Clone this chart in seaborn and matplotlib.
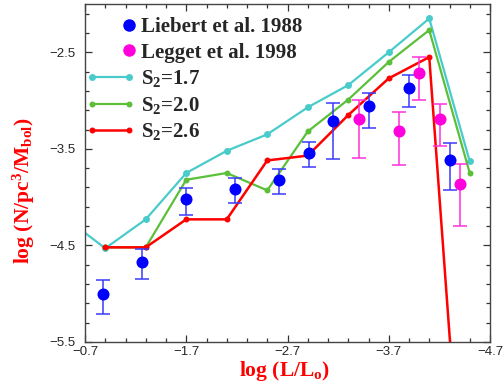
import numpy as np
import pandas as pd
import matplotlib
matplotlib.use("Agg")
import matplotlib.pyplot as plt
import seaborn as sns
from matplotlib.lines import Line2D
from matplotlib.legend_handler import HandlerBase
from matplotlib.ticker import MultipleLocator, FixedLocator

# ---- data ----
model_x = [-0.5, -0.9, -1.3, -1.7, -2.1, -2.5, -2.9, -3.3, -3.7, -4.1, -4.5]
s17_y = [-4.21, -4.53, -4.23, -3.75, -3.52, -3.35, -3.07, -2.84, -2.50, -2.15, -3.63]
s20_y = [np.nan, -4.52, -4.52, -3.82, -3.75, -3.93, -3.32, -2.99, -2.60, -2.27, -3.75]
s26_y = [np.nan, -4.52, -4.52, -4.23, -4.23, -3.62, -3.57, -3.15, -2.77, -2.55, -8.30]

lieb_x = [-0.88, -1.26, -1.70, -2.18, -2.62, -2.91, -3.15, -3.50, -3.90, -4.30]
lieb_y = [-5.00, -4.67, -4.02, -3.92, -3.82, -3.54, -3.21, -3.06, -2.87, -3.62]
lieb_hi = [-4.86, -4.54, -3.91, -3.80, -3.71, -3.43, -3.02, -2.92, -2.74, -3.44]
lieb_lo = [-5.21, -4.85, -4.18, -4.06, -3.97, -3.69, -3.61, -3.28, -3.07, -3.93]

legg_x = [-3.41, -3.80, -4.00, -4.21, -4.40]
legg_y = [-3.19, -3.31, -2.71, -3.19, -3.86]
legg_hi = [-2.99, -3.12, -2.55, -3.04, -3.66]
legg_lo = [-3.59, -3.67, -2.99, -3.47, -4.30]

x_ticks = [-0.7, -1.7, -2.7, -3.7, -4.7]
y_ticks = [-5.5, -4.5, -3.5, -2.5]

CYAN = "#4ACBCB"
GREEN = "#5CBF3A"
RED = "#FF0000"
BLUE = "#0000FF"
BLUE_ERR = "#3A3AFF"
MAG = "#FF00DC"
MAG_ERR = "#FF30D8"

sns.set_style("ticks")
plt.rcParams["font.family"] = ["Liberation Serif", "DejaVu Serif"]
plt.rcParams["mathtext.default"] = "regular"

fig = plt.figure(figsize=(5.03, 3.87), dpi=100)
ax = fig.add_axes([85 / 503, 1 - 342 / 387, 405 / 503, 338 / 387])

models = pd.DataFrame({"x": model_x, "S17": s17_y, "S20": s20_y, "S26": s26_y})

sns.lineplot(data=models, x="x", y="S17", ax=ax, color=CYAN, lw=1.6,
             marker="o", markersize=5, markeredgewidth=0, sort=False, zorder=2)
sns.lineplot(data=models.dropna(subset=["S20"]), x="x", y="S20", ax=ax, color=GREEN, lw=1.6,
             marker="o", markersize=4.3, markeredgewidth=0, sort=False, zorder=3)
sns.lineplot(data=models.dropna(subset=["S26"]), x="x", y="S26", ax=ax, color=RED, lw=1.8,
             marker="o", markersize=4.3, markeredgewidth=0, sort=False, zorder=4)

lieb_y_a = np.array(lieb_y)
ax.errorbar(lieb_x, lieb_y, yerr=[lieb_y_a - np.array(lieb_lo), np.array(lieb_hi) - lieb_y_a],
            fmt="none", ecolor=BLUE_ERR, elinewidth=1.1, capsize=5, capthick=1.1, zorder=5)
legg_y_a = np.array(legg_y)
ax.errorbar(legg_x, legg_y, yerr=[legg_y_a - np.array(legg_lo), np.array(legg_hi) - legg_y_a],
            fmt="none", ecolor=MAG_ERR, elinewidth=1.1, capsize=5, capthick=1.1, zorder=5)
sns.scatterplot(x=lieb_x, y=lieb_y, ax=ax, color=BLUE, s=75, linewidth=0, zorder=6)
sns.scatterplot(x=legg_x, y=legg_y, ax=ax, color=MAG, s=75, linewidth=0, zorder=6)

ax.set_xlim(-0.7, -4.7)
ax.set_ylim(-5.5, -2.0)
ax.xaxis.set_major_locator(FixedLocator(x_ticks))
ax.yaxis.set_major_locator(FixedLocator(y_ticks))
ax.xaxis.set_minor_locator(MultipleLocator(0.2, offset=0.1))
ax.yaxis.set_minor_locator(MultipleLocator(0.2, offset=0.1))
ax.set_xticklabels(["\u22120.7", "\u22121.7", "\u22122.7", "\u22123.7", "\u22124.7"],
                   family="Liberation Sans", fontsize=9.5)
ax.set_yticklabels(["\u22125.5", "\u22124.5", "\u22123.5", "\u22122.5"],
                   family="Liberation Sans", fontsize=9.5)
ax.tick_params(which="both", direction="in", top=True, right=True, width=0.9, color="#333333")
ax.tick_params(which="major", length=5)
ax.tick_params(which="minor", length=3)
ax.tick_params(axis="x", which="major", pad=3.0)
ax.tick_params(axis="y", which="major", pad=7)
for sp in ax.spines.values():
    sp.set_linewidth(1.0)
    sp.set_color("#444444")

ax.set_xlabel(r"log (L/L$_{o}$)", color=RED, fontsize=15.5, fontweight="bold")
ax.set_ylabel(r"log (N/pc$^{3}$/M$_{bol}$)", color=RED, fontsize=15.5, fontweight="bold")
ax.yaxis.set_label_coords((37 - 85) / 405, (342 - 191) / 338)
ax.xaxis.set_label_coords((285 - 85) / 405, -(359 - 342) / 338)


class RightMarker(HandlerBase):
    def create_artists(self, legend, orig_handle, xdescent, ydescent, width, height, fontsize, trans):
        x = width - 0.3 * fontsize - xdescent
        y = height / 2 - ydescent
        l = Line2D([x], [y], ls="none", marker="o", color=orig_handle.get_color(),
                   markersize=orig_handle.get_markersize(), markeredgewidth=0, transform=trans)
        return [l]


h_lieb = Line2D([], [], ls="none", marker="o", color=BLUE, markersize=9)
h_legg = Line2D([], [], ls="none", marker="o", color=MAG, markersize=9)
h17 = Line2D([], [], color=CYAN, lw=1.6, marker="o", markersize=5, markeredgewidth=0)
h20 = Line2D([], [], color=GREEN, lw=1.6, marker="o", markersize=4.3, markeredgewidth=0)
h26 = Line2D([], [], color=RED, lw=1.8, marker="o", markersize=4.3, markeredgewidth=0)

leg = ax.legend([h_lieb, h_legg, h17, h20, h26],
                ["Liebert et al. 1988", "Legget et al. 1998",
                 r"S$_{2}$=1.7", r"S$_{2}$=2.0", r"S$_{2}$=2.6"],
                handler_map={h_lieb: RightMarker(), h_legg: RightMarker()},
                loc="upper left", bbox_to_anchor=(0.0025, 1 - 13 / 338), frameon=False,
                prop={"family": "Liberation Serif", "weight": "bold", "size": 15},
                handlelength=2.35, handletextpad=0.3, labelspacing=0.27,
                borderpad=0, borderaxespad=0, numpoints=2)

fig.savefig("out.png", dpi=100)
